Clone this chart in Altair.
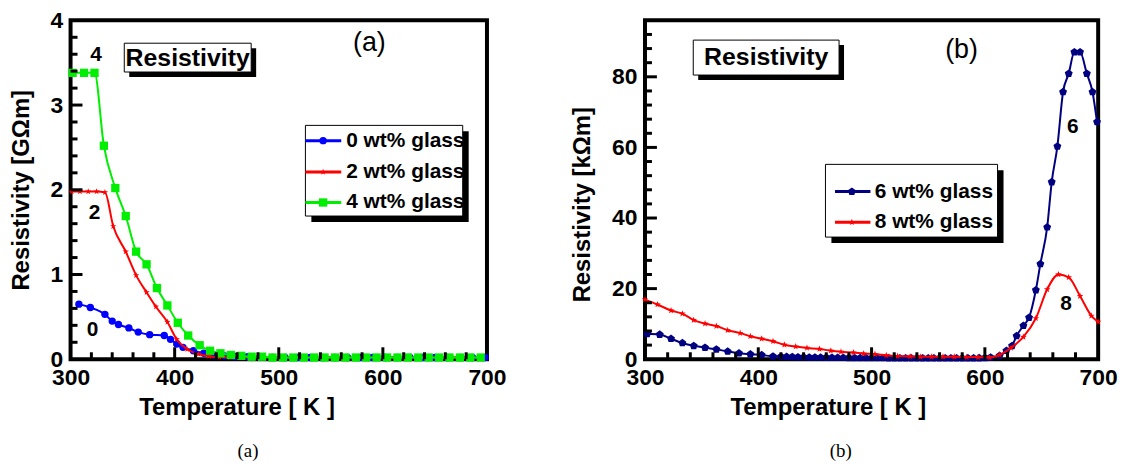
import altair as alt
import pandas as pd

# ---------------- Panel (a) data ----------------
A0_T = [308, 319, 333, 340, 346, 356, 365, 376, 390, 396, 402, 408, 418, 428, 438, 448, 458,
        470, 482, 494, 506, 518, 530, 542, 554, 566, 578, 590, 602, 614, 626, 638, 650, 662, 674, 686, 698]
A0_R = [0.65, 0.61, 0.53, 0.45, 0.41, 0.37, 0.32, 0.29, 0.28, 0.235, 0.18, 0.14, 0.10, 0.07, 0.05, 0.04, 0.03,
        0.03, 0.025, 0.02, 0.02, 0.02, 0.02, 0.02, 0.02, 0.02, 0.02, 0.02, 0.02, 0.02, 0.02, 0.02, 0.02, 0.02, 0.02, 0.02, 0.02]

A2_T = [301, 309, 317, 325, 333, 341, 353, 363, 373, 382, 393, 402, 412, 423, 433, 443,
        453, 463, 473, 483, 493, 503, 513, 523, 533, 543, 553, 563, 573, 583, 593, 603, 613, 623, 633, 643, 653, 663, 673, 683, 693]
A2_R = [1.98, 1.98, 1.98, 1.98, 1.97, 1.57, 1.27, 0.99, 0.79, 0.62, 0.44, 0.235, 0.118, 0.06, 0.035, 0.025,
        0.02, 0.02, 0.02, 0.02, 0.02, 0.02, 0.02, 0.02, 0.02, 0.02, 0.02, 0.02, 0.02, 0.02, 0.02, 0.02, 0.02, 0.02, 0.02, 0.02, 0.02, 0.02, 0.02, 0.02, 0.02]

A4_T = [302, 313, 323, 332, 343, 353, 363, 373, 383, 393, 403, 413, 424, 434, 444, 454, 464, 474, 484,
        494, 504, 514, 524, 534, 544, 554, 564, 574, 584, 594, 604, 614, 624, 634, 644, 654, 664, 674, 684, 694]
A4_R = [3.38, 3.38, 3.38, 2.52, 2.02, 1.69, 1.27, 1.12, 0.84, 0.635, 0.43, 0.28, 0.165, 0.10, 0.07, 0.05, 0.04, 0.03, 0.03,
        0.02, 0.02, 0.02, 0.02, 0.02, 0.02, 0.02, 0.02, 0.02, 0.02, 0.02, 0.02, 0.02, 0.02, 0.02, 0.02, 0.02, 0.02, 0.02, 0.02, 0.02]

# ---------------- Panel (b) data ----------------
B6_T = [302, 313, 323, 333, 343, 353, 363, 373, 383, 393, 403, 413,
        420, 425, 430, 435, 440, 445, 450, 455, 460, 465, 470, 475, 480, 485, 490, 495, 500, 505, 510,
        515, 520, 525, 530, 535, 540, 545, 550, 555, 560, 565, 570, 575, 580, 585, 590, 595, 600, 605,
        613, 619, 624, 628, 634, 639, 645, 649, 655, 659, 664, 669, 674, 679, 684, 690, 695, 699]
B6_R = [7.2, 7.0, 5.8, 4.6, 3.8, 3.3, 2.8, 2.2, 1.7, 1.4, 1.2, 0.8,
        0.75, 0.7, 0.66, 0.62, 0.58, 0.55, 0.52, 0.5, 0.48, 0.46, 0.44, 0.42, 0.41, 0.4, 0.39, 0.38, 0.37, 0.36, 0.35,
        0.34, 0.33, 0.33, 0.32, 0.32, 0.31, 0.31, 0.3, 0.3, 0.3, 0.3, 0.3, 0.3, 0.3, 0.31, 0.32, 0.34, 0.4, 0.55,
        1.0, 2.4, 3.8, 6.6, 9.5, 11.8, 19.6, 27.0, 37.4, 50.2, 60.3, 75.7, 80.9, 87.0, 87.0, 80.9, 75.7, 67.2]

B8_T = [300, 311, 323, 333, 343, 353, 363, 373, 384, 393, 403, 413, 423, 433, 443, 454, 464, 473, 484, 493,
        503, 513, 523, 534, 543, 553, 563, 573, 584, 594, 604, 613, 623, 634, 645, 655, 665, 674, 684, 694, 700]
B8_R = [16.9, 15.5, 13.8, 12.9, 11.1, 10.1, 9.4, 8.2, 7.4, 6.5, 5.8, 5.1, 4.1, 3.6, 3.2, 2.9, 2.4, 2.1, 1.9, 1.6,
        1.45, 1.1, 0.9, 0.8, 0.7, 0.7, 0.7, 0.7, 0.6, 0.6, 0.5, 1.25, 3.2, 6.3, 11.6, 19.8, 24.0, 23.2, 17.9, 12.3, 10.6]

LEGEND_A = ["0 wt% glass", "2 wt% glass", "4 wt% glass"]
LEGEND_B = ["6 wt% glass", "8 wt% glass"]

# ---------------- styling ----------------
FONT = "Liberation Sans"
STAR = "M0,-1L0.235,-0.324L0.951,-0.309L0.38,0.124L0.588,0.809L0,0.4L-0.588,0.809L-0.38,0.124L-0.951,-0.309L-0.235,-0.324Z"
PENT = "M0,-1L0.951,-0.309L0.588,0.809L-0.588,0.809L-0.951,-0.309Z"
H = 341

X_MAJOR = [300, 400, 500, 600, 700]
X_MINOR = [v for v in range(320, 700, 20) if v % 100 != 0]
YA_MAJOR = [0, 1, 2, 3, 4]
YA_MINOR = [round(i * 0.2, 1) for i in range(1, 20) if i % 5 != 0]
YB_MAJOR = [0, 20, 40, 60, 80]
YB_MINOR = [float(v) for v in range(4, 96, 4) if v % 20 != 0]


def x_axis(title_x):
    return alt.Axis(values=X_MAJOR, format="d", ticks=False, labelFlush=False, labelPadding=7,
                    title="Temperature [ K ]", titleX=title_x, titlePadding=7, grid=False)


def y_axis(ticks, title, title_y=None):
    kw = {}
    if title_y is not None:
        kw["titleY"] = title_y
    return alt.Axis(values=ticks, format="d", ticks=False, labelFlush=False, labelPadding=8,
                    title=title, titlePadding=17, grid=False, **kw)


def panel(series, xdom, ydom, xaxis, yaxis, ymajor, yminor, annot, legend, width, height, caption):
    xs = alt.Scale(domain=xdom, nice=False, zero=False)
    ys = alt.Scale(domain=ydom, nice=False)
    X = alt.X("T:Q", scale=xs, axis=xaxis)
    Y = alt.Y("R:Q", scale=ys, axis=yaxis)
    layers = []
    for T, R, color, shape, size in series:
        df = pd.DataFrame({"T": T, "R": R})
        base = alt.Chart(df)
        layers.append(base.mark_line(color=color, strokeWidth=2, interpolate="monotone").encode(x=X, y=Y))
        layers.append(base.mark_point(shape=shape, filled=True, size=size, color=color, opacity=1).encode(x=X, y=Y))
    # inward ticks, placed through the scales (bottom frame and left frame)
    for vals, ln in [([float(v) for v in X_MAJOR[1:-1]], 12), ([float(v) for v in X_MINOR], 7)]:
        n = len(vals)
        td = pd.DataFrame({"T": vals, "T2": vals, "R": [float(ydom[0])] * n, "R2": [float(ydom[0])] * n})
        layers.append(alt.Chart(td).mark_rect(fill="black", xOffset=-1.5, x2Offset=1.5, y2Offset=-ln)
                      .encode(x=X, x2="T2", y=Y, y2="R2"))
    for vals, ln in [([float(v) for v in ymajor[1:-1]], 12), ([float(v) for v in yminor], 7)]:
        n = len(vals)
        td = pd.DataFrame({"T": [float(xdom[0])] * n, "T2": [float(xdom[0])] * n, "R": vals, "R2": vals})
        layers.append(alt.Chart(td).mark_rect(fill="black", x2Offset=ln, yOffset=-1.5, y2Offset=1.5)
                      .encode(x=X, x2="T2", y=Y, y2="R2"))
    bx = pd.DataFrame({"T": [annot["box"][0]], "T2": [annot["box"][1]],
                       "R": [annot["box"][2]], "R2": [annot["box"][3]]})
    layers.append(alt.Chart(bx).mark_rect(fill="black", xOffset=5, x2Offset=5, yOffset=5, y2Offset=5)
                  .encode(x=X, x2="T2", y=Y, y2="R2"))
    layers.append(alt.Chart(bx).mark_rect(fill="white", stroke="black", strokeWidth=1)
                  .encode(x=X, x2="T2", y=Y, y2="R2"))
    tx = pd.DataFrame({"T": [annot["box_text"][0]], "R": [annot["box_text"][1]], "txt": ["Resistivity"]})
    layers.append(alt.Chart(tx).mark_text(font=FONT, fontWeight="bold", fontSize=25, color="black")
                  .encode(x=X, y=Y, text="txt:N"))
    pl = pd.DataFrame({"T": [annot["letter"][0]], "R": [annot["letter"][1]], "txt": [annot["letter"][2]]})
    layers.append(alt.Chart(pl).mark_text(font=FONT, fontSize=27, color="black")
                  .encode(x=X, y=Y, text="txt:N"))
    cl = pd.DataFrame({"T": annot["lab_T"], "R": annot["lab_R"], "txt": annot["lab_txt"]})
    layers.append(alt.Chart(cl).mark_text(font=FONT, fontWeight="bold", fontSize=21, color="black")
                  .encode(x=X, y=Y, text="txt:N"))
    lb = pd.DataFrame({"T": [legend["box"][0]], "T2": [legend["box"][1]],
                       "R": [legend["box"][2]], "R2": [legend["box"][3]]})
    layers.append(alt.Chart(lb).mark_rect(fill="black", xOffset=6, x2Offset=6, yOffset=6, y2Offset=6)
                  .encode(x=X, x2="T2", y=Y, y2="R2"))
    layers.append(alt.Chart(lb).mark_rect(fill="white", stroke="black", strokeWidth=1)
                  .encode(x=X, x2="T2", y=Y, y2="R2"))
    for (label, color, shape, size), ry in zip(legend["entries"], legend["rows"]):
        ld = pd.DataFrame({"T": [legend["line"][0]], "T2": [legend["line"][1]], "R": [ry],
                           "M": [legend["marker"]], "txt": [label], "TT": [legend["text"]]})
        c = alt.Chart(ld)
        layers.append(c.mark_rule(color=color, strokeWidth=3).encode(x=X, x2="T2", y=Y))
        layers.append(c.mark_point(shape=shape, filled=True, size=size, color=color, opacity=1)
                      .encode(x=alt.X("M:Q", scale=xs, axis=xaxis), y=Y))
        layers.append(c.mark_text(font=FONT, fontWeight="bold", fontSize=21, align="left", color="black")
                      .encode(x=alt.X("TT:Q", scale=xs, axis=xaxis), y=Y, text="txt:N"))
    return alt.layer(*layers).properties(
        width=width, height=height,
        title=alt.TitleParams(caption, orient="bottom", font="Liberation Serif", fontSize=19,
                              fontWeight="normal", anchor="middle", frame="group", offset=22, dx=-31))


panel_a = panel(
    series=[(A0_T, A0_R, "#0000ff", "circle", 55),
            (A2_T, A2_R, "#ff0000", STAR, 45),
            (A4_T, A4_R, "#00ee00", "square", 70)],
    xdom=[300, 700], ydom=[0, 4],
    xaxis=x_axis(167),
    yaxis=y_axis(YA_MAJOR, "Resistivity [GΩm]"),
    ymajor=YA_MAJOR, yminor=YA_MINOR,
    annot={"box": [351.6, 473.5, 3.39, 3.73], "box_text": [412.5, 3.56], "letter": [587, 3.73, "(a)"],
           "lab_T": [324.5, 323, 321], "lab_R": [3.59, 1.73, 0.35], "lab_txt": ["4", "2", "0"]},
    legend={"box": [525.6, 676.7, 1.69, 2.76], "rows": [2.58, 2.21, 1.85], "line": [525.6, 560],
            "marker": 542.6, "text": 564.8,
            "entries": [(LEGEND_A[0], "#0000ff", "circle", 55), (LEGEND_A[1], "#ff0000", STAR, 45),
                        (LEGEND_A[2], "#00ee00", "square", 70)]},
    width=419, height=H, caption="(a)")

panel_b = panel(
    series=[(B6_T, B6_R, "#000080", PENT, 70),
            (B8_T, B8_R, "#ff0000", STAR, 50)],
    xdom=[300, 700], ydom=[0, 96],
    xaxis=x_axis(184),
    yaxis=y_axis(YB_MAJOR, "Resistivity [kΩm]", title_y=185),
    ymajor=YB_MAJOR + [96], yminor=YB_MINOR,
    annot={"box": [342.6, 471.3, 80.5, 90.4], "box_text": [407, 85.5], "letter": [579.4, 87.6, "(b)"],
           "lab_T": [677.7, 671.7], "lab_R": [65.8, 15.6], "lab_txt": ["6", "8"]},
    legend={"box": [459.3, 611.2, 34.6, 55.2], "rows": [47.5, 38.8], "line": [467.7, 499],
            "marker": 482.6, "text": 502.8,
            "entries": [(LEGEND_B[0], "#000080", PENT, 70), (LEGEND_B[1], "#ff0000", STAR, 50)]},
    width=456, height=H, caption="(b)")

chart = alt.hconcat(panel_a, panel_b, spacing=60).properties(
    padding={"left": 7, "top": 6, "right": 5, "bottom": 5}, background="white"
).configure_view(stroke="black", strokeWidth=4).configure_axis(
    domain=False, labelFont=FONT, labelFontWeight="bold",
    labelFontSize=23, labelColor="black", titleFont=FONT, titleFontWeight="bold", titleFontSize=24,
    titleColor="black"
)

chart.save("out.html", embed_options={"renderer": "svg", "actions": False})
